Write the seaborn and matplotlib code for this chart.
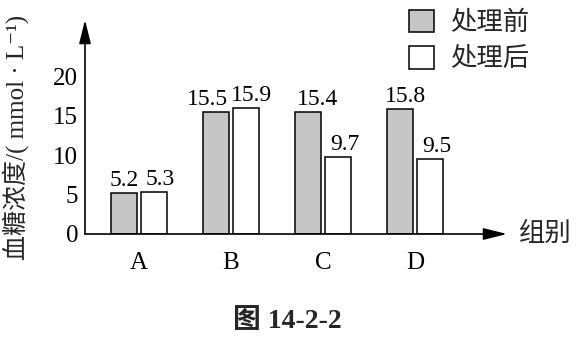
import matplotlib
matplotlib.use("Agg")
import matplotlib.pyplot as plt
import seaborn as sns
import pandas as pd
from matplotlib.patches import Patch

groups = ["A", "B", "C", "D"]
series = ["处理前", "处理后"]
before = [5.2, 15.5, 15.4, 15.8]
after = [5.3, 15.9, 9.7, 9.5]
yticks = [0, 5, 10, 15, 20]
colors = ["#c6c6c6", "#ffffff"]
# horizontal nudges (points) of the value labels, as in the reference
label_dx = [[0, -6, 6.5, 3.6], [4.3, 4.3, 5, 5]]

df = pd.DataFrame({
    "group": groups * 2,
    "series": [series[0]] * 4 + [series[1]] * 4,
    "value": before + after,
})

sns.set_theme(style="white")
SERIF = ["Liberation Serif", "Noto Sans CJK SC", "DejaVu Sans"]
CJK = ["Noto Sans CJK SC", "DejaVu Sans"]

fig = plt.figure(figsize=(5.82, 3.44), dpi=100)
ax = fig.add_axes([85 / 582, 1 - 234 / 344, (507 - 85) / 582, (234 - 20) / 344])

sns.barplot(data=df, x="group", y="value", hue="series", palette=colors,
            width=0.65, gap=0.13, edgecolor="black", linewidth=1.1,
            saturation=1, legend=False, ax=ax)

for ci, cont in enumerate(ax.containers):
    anns = ax.bar_label(cont, fmt="%.1f", padding=1.5, fontsize=17, family=SERIF, color="black")
    for ann, dx in zip(anns, label_dx[ci]):
        ann.xyann = (dx, 1.5)

ax.set_xlim(-0.587, 4.0)
ax.set_ylim(0, 27.1)
ax.set_yticks(yticks)
ax.set_yticklabels([str(t) for t in yticks], family=SERIF, fontsize=18)
ax.set_xticks(range(len(groups)))
ax.set_xticklabels(groups, family=SERIF, fontsize=18)
ax.tick_params(axis="y", direction="in", length=4, width=1.1, pad=5, colors="black")
ax.tick_params(axis="x", length=0, pad=13, colors="black")
ax.set_xlabel("")
ax.set_ylabel("")
for s in ax.spines.values():
    s.set_visible(False)

arrow = dict(arrowstyle="-|>,head_length=1.2,head_width=0.3", lw=1.2, color="black",
             shrinkA=0, shrinkB=0)
ax.annotate("", xy=(0, 1), xytext=(0, 0), xycoords="axes fraction", arrowprops=arrow)
ax.annotate("", xy=(1, 0), xytext=(0, 0), xycoords="axes fraction", arrowprops=arrow)

fig.text(519 / 582, 1 - 233 / 344, "组别", family=CJK, fontsize=19, va="center", ha="left")
fig.text(16 / 582, 1 - 137 / 344, "血糖浓度/( mmol · L⁻¹)", family=SERIF, fontsize=18,
         rotation=90, va="center", ha="center")
fig.text(287 / 582, 1 - 322 / 344, "图 14-2-2", family=SERIF, fontsize=20, weight="bold",
         va="center", ha="center")

handles = [Patch(facecolor=colors[0], edgecolor="black", linewidth=1.1),
           Patch(facecolor=colors[1], edgecolor="black", linewidth=1.1)]
leg = fig.legend(handles, series, loc="upper left", bbox_to_anchor=(409 / 582, 1 - 9 / 344),
                 frameon=False, handlelength=0.95, handleheight=0.95, handletextpad=0.6,
                 labelspacing=0.35, borderpad=0, borderaxespad=0,
                 prop={"family": CJK, "size": 19})

fig.savefig("out.png", dpi=100, facecolor="white")
